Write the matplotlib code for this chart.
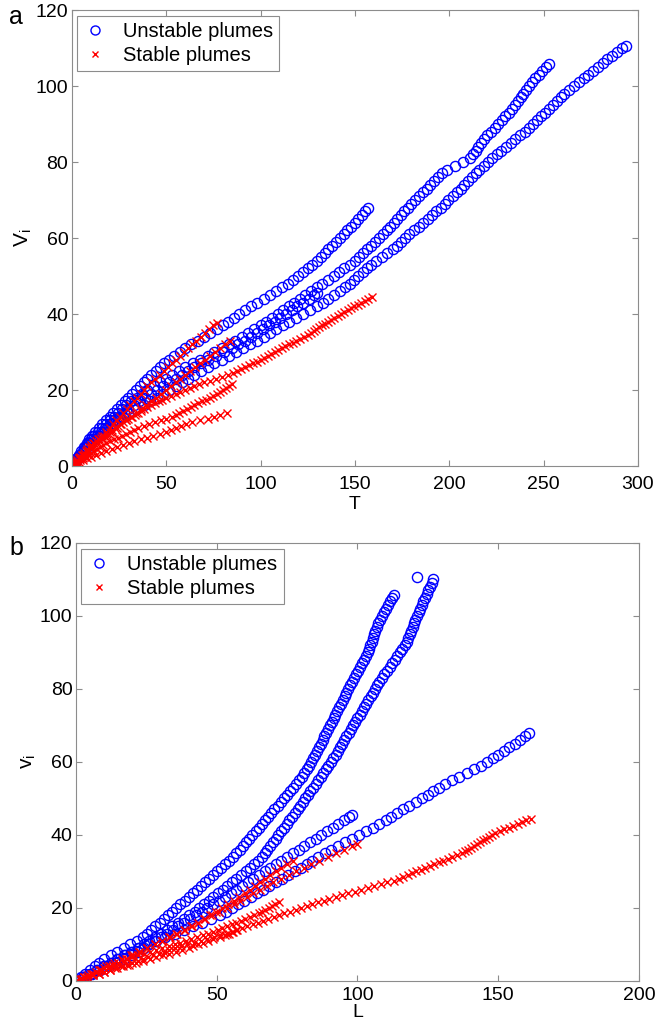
import matplotlib.pyplot as plt
from matplotlib.lines import Line2D

plt.rcParams['font.family'] = ['Liberation Sans', 'DejaVu Sans']
plt.rcParams['mathtext.default'] = 'regular'

# each plume: volume v, plotted against time t (panel a) and length l (panel b)

# unstable plume 1
u1_v = [0, 1, 2, 3, 4, 5, 6, 7, 8, 9, 10, 11, 12, 13, 14, 15, 16, 17, 18, 19, 20, 21, 22, 23, 24,
        25, 26, 27, 28, 29, 30, 31, 32, 33, 34, 35, 36, 37, 38, 39, 40, 41, 42, 43, 44, 45, 46, 47,
        48, 49, 50, 51, 52, 53, 54, 55, 56, 57, 58, 59, 60, 61, 62, 63, 64, 65, 66, 67, 67.8]
u1_t = [0, 1.25, 2.5, 3.75, 5, 6.4, 7.9, 9.3, 10.8, 12.5, 14.2, 16, 18, 20, 22, 24, 26, 28, 30, 32,
        34, 36, 38, 40, 42.2, 44.4, 46.7, 48.9, 51.4, 54.3, 57.1, 60, 63.3, 66.7, 70, 73.3, 76.7, 80,
        82.9, 85.7, 88.6, 91.7, 95, 98.3, 101.7, 105, 108.3, 111.4, 114.3, 117.1, 120, 122.5, 125,
        127.5, 130, 132, 134, 136, 138, 140, 142, 144, 146, 148, 150, 151.8, 153.7, 155.5, 157]
u1_l = [0, 2.5, 5, 7.5, 10, 12.3, 14.6, 16.9, 19.5, 22.5, 25.5, 28.5, 31.8, 35, 38.2, 41.4, 44.6,
        47.8, 51, 53.2, 55.4, 57.6, 59.8, 62, 64.2, 66.4, 68.7, 70.9, 73.1, 75.4, 77.7, 80, 82, 84, 86,
        88.3, 90.7, 93, 95.6, 98.1, 100.7, 103.2, 105.5, 107.8, 110, 112, 114, 116.1, 118.4, 120.7,
        123, 125, 127, 129, 131, 133.6, 136.2, 138.8, 141.4, 144, 146, 148, 150, 152, 154, 155.8,
        157.7, 159.5, 161]

# unstable plume 2
u2_v = [0, 1, 2, 3, 4, 5, 6, 7, 8, 9, 10, 11, 12, 13, 14, 15, 16, 17, 18, 19, 20, 21, 22, 23, 24,
        25, 26, 27, 28, 29, 30, 31, 32, 33, 34, 35, 36, 37, 38, 39, 40, 41, 42, 43, 44, 45, 46, 47,
        48, 49, 50, 51, 52, 53, 54, 55, 56, 57, 58, 59, 60, 61, 62, 63, 64, 65, 66, 67, 68, 69, 70,
        71, 72, 73, 74, 75, 76, 77, 78, 79, 80, 81, 82, 83, 84, 85, 86, 87, 88, 89, 90, 91, 92, 93,
        94, 95, 96, 97, 98, 99, 100, 101, 102, 103, 104, 105, 105.8]
u2_t = [0, 1.4, 2.9, 4.3, 5.7, 7.1, 8.6, 10, 12, 14, 16, 18, 20, 22.2, 24.4, 26.7, 28.9, 31.4, 34.3,
        37.1, 40, 43.3, 46.7, 50, 53.3, 56.7, 60, 64, 68, 71.9, 75.6, 79.4, 83.1, 86.7, 90, 93.3,
        96.7, 100, 103, 106, 109, 112, 114.9, 117.8, 120.7, 123.6, 126.6, 129.7, 132.8, 135.9, 139,
        141.8, 144.5, 147.3, 150, 152.2, 154.3, 156.5, 158.6, 160.8, 162.9, 164.9, 166.8, 168.7,
        170.6, 172.5, 174.4, 176.2, 178.1, 180, 182, 184, 186, 188, 190, 192, 194, 196, 199, 203,
        207.5, 210.8, 212.4, 214, 215.5, 217, 218.5, 220, 222, 224, 226, 227.9, 229.8, 231.7, 233.4,
        234.9, 236.4, 237.9, 239.3, 240.8, 242.3, 243.9, 245.7, 247.6, 249.4, 251.2, 252.7]
u2_l = [0, 1.7, 3.3, 5, 6.6, 8.3, 10.1, 12.3, 14.6, 16.9, 19.2, 21.5, 23.8, 25.3, 26.7, 28.2, 29.7,
        31.2, 32.7, 34.1, 35.6, 37.1, 38.6, 40, 41.5, 42.9, 44.3, 45.7, 47.2, 48.6, 50, 51.4, 52.9,
        54.3, 55.7, 56.9, 58.1, 59.3, 60.5, 61.6, 62.7, 63.9, 65, 66.1, 67.2, 68.3, 69.4, 70.5, 71.6,
        72.7, 73.9, 75, 76.1, 77.2, 78.3, 79.4, 80.2, 81.1, 81.9, 82.7, 83.6, 84.3, 85, 85.6, 86.3,
        86.9, 87.6, 88.2, 88.9, 89.5, 90.2, 90.8, 91.5, 92.1, 92.8, 93.4, 94.1, 94.7, 95.4, 96.1,
        96.8, 97.5, 98.2, 98.9, 99.6, 100.3, 101, 101.7, 102.4, 103.1, 103.6, 104, 104.5, 105, 105.4,
        105.9, 106.4, 106.9, 107.4, 107.9, 108.6, 109.3, 110, 110.8, 111.5, 112.2, 112.8]

# unstable plume 3
u3_v = [0, 1, 2, 3, 4, 5, 6, 7, 8, 9, 10, 11, 12, 13, 14, 15, 16, 17, 18, 19, 20, 21, 22, 23, 24,
        25, 26, 27, 28, 29, 30, 31, 32, 33, 34, 35, 36, 37, 38, 39, 40, 41, 42, 43, 44, 45, 46, 47,
        48, 49, 50, 51, 52, 53, 54, 55, 56, 57, 58, 59, 60, 61, 62, 63, 64, 65, 66, 67, 68, 69, 70,
        71, 72, 73, 74, 75, 76, 77, 78, 79, 80, 81, 82, 83, 84, 85, 86, 87, 88, 89, 90, 91, 92, 93,
        94, 95, 96, 97, 98, 99, 100, 101, 102, 103, 104, 105, 106, 107, 108, 109, 110, 110.6]
u3_t = [0, 1.7, 3.3, 5, 6.7, 8.3, 10, 12.2, 14.4, 16.7, 18.9, 21.4, 24.3, 27.1, 30, 34, 38, 41.4,
        44.9, 48.3, 51.7, 55, 58.3, 61.7, 65, 68.3, 71.9, 75.6, 79.4, 83.1, 86.9, 90.6, 94.4, 98.1,
        101.7, 105, 108.3, 111.7, 115, 118.8, 122.5, 126.3, 130, 133, 136, 139, 142, 145, 147.3,
        149.6, 151.9, 154.2, 156.5, 158.8, 161.4, 164.3, 167.1, 170, 172.2, 174.4, 176.7, 178.9,
        181.3, 183.8, 186.3, 188.8, 191.1, 193.2, 195.4, 197.5, 199.6, 201.8, 203.9, 206, 208, 210,
        212, 214, 216, 218.2, 220.5, 222.9, 225.3, 227.6, 230, 232.5, 234.9, 237.4, 239.9, 242.4,
        244.6, 246.7, 248.8, 250.9, 252.9, 255, 257, 259, 261, 263.5, 266.1, 268.6, 271.2, 273.7,
        276.3, 278.8, 281.3, 283.8, 286.3, 288.9, 291.5, 293.6]
u3_l = [0, 2.5, 5, 7.5, 10, 12.5, 15, 17.5, 20, 22, 24, 26.1, 28.1, 30.1, 32.2, 34.2, 36.2, 38.3,
        40.3, 42.2, 43.8, 45.5, 47.1, 48.8, 50.4, 52.1, 53.7, 55.4, 57, 58.7, 60.3, 61.8, 63.2, 64.6,
        66, 67, 68, 68.9, 69.9, 70.9, 71.9, 72.8, 73.8, 74.8, 75.8, 76.8, 77.7, 78.7, 79.7, 80.6,
        81.5, 82.4, 83.3, 84.2, 85.1, 86, 86.9, 87.8, 88.7, 89.6, 90.5, 91.4, 92.2, 93, 93.7, 94.5,
        95.3, 96.1, 96.9, 97.7, 98.4, 99.2, 100, 100.8, 101.6, 102.3, 103.1, 103.9, 104.7, 105.5,
        106.2, 107, 107.8, 108.7, 109.6, 110.5, 111.4, 112.3, 113.2, 114.1, 115, 115.9, 116.8, 117.5,
        118, 118.5, 119.1, 119.6, 120.1, 120.6, 121.2, 121.7, 122.2, 122.8, 123.4, 124, 124.6, 125.2,
        125.8, 126.4, 126.8, 121]

# unstable plume 4
u4_v = [0, 1, 2, 3, 4, 5, 6, 7, 8, 9, 10, 11, 12, 13, 14, 15, 16, 17, 18, 19, 20, 21, 22, 23, 24,
        25, 26, 27, 28, 29, 30, 31, 32, 33, 34, 35, 36, 37, 38, 39, 40, 41, 42, 43, 44, 45, 45.5]
u4_t = [0, 1.5, 3.1, 4.6, 6.2, 7.7, 9.2, 11.1, 13.3, 15.6, 17.8, 20, 22.5, 25, 27.5, 30, 32.9, 35.7,
        38.6, 41.7, 45, 48.3, 51.7, 55, 58.3, 61.7, 65, 68.3, 72.1, 76.4, 80.7, 85, 88.3, 91.7, 95,
        98.3, 101.5, 104.5, 107.5, 110.5, 113.5, 116.5, 119.5, 122.5, 125.5, 128.5, 130]
u4_l = [0, 2.9, 5.7, 8.6, 11.4, 14.3, 17.1, 20, 22, 24.1, 26.1, 28.2, 30.2, 32.3, 34.3, 36.4, 38.4,
        40.5, 42.5, 44.6, 46.7, 48.7, 50.8, 52.9, 54.9, 57, 59, 61, 63, 65, 67, 69, 71, 73, 75, 77.1,
        79.1, 81.1, 83.1, 85.2, 87.2, 89.2, 91.2, 93.1, 95.1, 97, 98]

# stable plume 1
s1_v = [0, 0.5, 1, 1.5, 2, 2.5, 3, 3.5, 4, 4.5, 5, 5.5, 6, 6.5, 7, 7.5, 8, 8.5, 9, 9.5, 10, 10.5,
        11, 11.5, 12, 12.5, 13, 13.5, 14, 14.5, 15, 15.5, 16, 16.5, 17, 17.5, 18, 18.5, 19, 19.5, 20,
        20.5, 21, 21.5, 22, 22.5, 23, 23.5, 24, 24.5, 25, 25.5, 26, 26.5, 27, 27.5, 28, 28.5, 29,
        29.5, 30, 30.5, 31, 31.5, 32, 32.5, 33, 33.5, 34, 34.5, 35, 35.5, 36, 36.5, 37, 37.5, 38,
        38.5, 39, 39.5, 40, 40.5, 41, 41.5, 42, 42.5, 43, 43.5, 44, 44.5]
s1_t = [0, 0.9, 1.8, 2.7, 3.6, 4.5, 5.5, 6.4, 7.3, 8.2, 9.1, 10, 11.4, 12.9, 14.3, 15.7, 17.1, 18.6,
        20, 21.4, 22.9, 24.3, 25.7, 27.1, 28.6, 30, 31.7, 33.3, 35, 36.7, 38.3, 40, 42, 44, 46, 48,
        50, 52.5, 55, 57.5, 60, 62.5, 65, 67.5, 70, 73.1, 76.2, 79.4, 82.5, 85.6, 87.7, 89.7, 91.8,
        93.8, 95.9, 97.9, 100, 101.9, 103.8, 105.6, 107.5, 109.4, 111.3, 113.1, 115, 117, 119, 121,
        123, 125, 126.5, 128.1, 129.6, 131.2, 132.7, 134.2, 135.8, 137.3, 139.1, 140.8, 142.6, 144.4,
        146.2, 148, 149.8, 151.7, 153.5, 155.4, 157.2, 159.1]
s1_l = [0, 2, 4, 6, 8, 10, 12, 14, 16, 18, 20, 21.9, 23.8, 25.6, 27.5, 29.4, 31.3, 33.1, 35, 37.3,
        39.6, 41.9, 44.3, 46.6, 48.9, 51.2, 53.5, 55.4, 57.2, 59.1, 60.9, 62.8, 64.6, 66.5, 68.3,
        70.2, 72, 74, 76, 78, 80, 82, 84, 86, 88, 90, 92.3, 94.6, 96.8, 99.1, 101.4, 103.7, 105.9,
        108.2, 110.5, 112.8, 114.6, 116.2, 117.8, 119.4, 120.9, 122.5, 124.1, 125.7, 127.3, 128.8,
        130.4, 132, 133.6, 135.2, 137, 138.1, 139.2, 140.3, 141.4, 142.5, 143.5, 144.6, 145.7, 146.8,
        147.9, 149, 150.6, 152.2, 153.7, 155.3, 156.9, 158.5, 160, 161.6]

# stable plume 2
s2_v = [0, 0.5, 1, 1.5, 2, 2.5, 3, 3.5, 4, 4.5, 5, 5.5, 6, 6.5, 7, 7.5, 8, 8.5, 9, 9.5, 10, 10.5,
        11, 11.5, 12, 12.5, 13, 13.5, 14]
s2_t = [0, 2, 4, 6, 8, 10, 12.8, 15.6, 18.3, 21.2, 24.2, 27.2, 30.2, 33.2, 36.4, 39.8, 43.2, 46.6,
        50, 52.6, 55.2, 57.8, 60.4, 63.7, 67.8, 72, 75.3, 78.7, 82]
s2_l = [0, 2, 4, 6, 8, 10, 12.2, 14.4, 16.7, 19, 21.4, 23.8, 26.2, 28.6, 31, 33.2, 35.5, 37.7, 40,
        41.7, 43.5, 45.2, 47, 48.8, 51, 53, 54.3, 55.7, 57]

# stable plume 3
s3_v = [0, 0.5, 1, 1.5, 2, 2.5, 3, 3.5, 4, 4.5, 5, 5.5, 6, 6.5, 7, 7.5, 8, 8.5, 9, 9.5, 10, 10.5,
        11, 11.5, 12, 12.5, 13, 13.5, 14, 14.5, 15, 15.5, 16, 16.5, 17, 17.5, 18, 18.5, 19, 19.5, 20,
        20.5, 21, 21.5]
s3_t = [0, 1.4, 2.9, 4.3, 5.7, 7.1, 8.6, 10, 11.7, 13.3, 15, 16.7, 18.3, 20, 22.1, 24.3, 26.4, 28.6,
        30.7, 32.9, 35, 38, 41, 44, 47, 50, 53, 55, 57, 59, 61, 63, 65, 67, 69, 71, 73, 75, 76.7,
        78.3, 80, 81.7, 83.3, 85]
s3_l = [0, 1.4, 2.9, 4.3, 5.7, 7.1, 8.6, 10, 11.7, 13.3, 15, 16.7, 18.3, 20, 22.1, 24.3, 26.4, 28.6,
        30.7, 32.9, 35, 37, 39, 41, 43, 45, 47, 48.7, 50.3, 52, 53.7, 55.3, 57, 58.6, 60.2, 61.8,
        63.4, 65, 66.2, 67.3, 68.5, 69.7, 70.8, 72]

# stable plume 4
s4_v = [0, 1, 2, 3, 4, 5, 6, 7, 8, 9, 10, 11, 12, 13, 14, 15, 16, 17, 18, 19, 20, 21, 22, 23, 24,
        25, 26, 27, 28, 29, 30, 31, 32, 33, 34, 35, 36, 37, 37.6]
s4_t = [0, 2, 4, 6, 8, 10, 12, 14, 16, 18, 20, 21.8, 23.6, 25.5, 27.3, 29.1, 30.9, 32.7, 34.5, 36.4,
        38.2, 40, 42.2, 44.3, 46.5, 48.7, 50.8, 53, 55.2, 57.4, 59.5, 61.7, 63.9, 66, 68.2, 70.5,
        72.6, 74.8, 77]
s4_l = [0, 3, 6, 9, 12, 15, 17.6, 20.2, 22.8, 25.4, 28, 30.5, 33.1, 35.6, 38.2, 40.7, 43.3, 45.8,
        48.4, 50.9, 53.5, 56, 58.3, 60.7, 63, 65.3, 67.7, 70, 72.7, 75.5, 78.2, 80.9, 83.6, 86.5,
        89.4, 92.4, 95.3, 98.2, 100]

# stable plume 5
s5_v = [0, 1, 2, 3, 4, 5, 6, 7, 8, 9, 10, 11, 12, 13, 14, 15, 16, 17, 18, 19, 20, 21, 22, 23, 24,
        25, 26, 27, 28, 29, 30, 31, 32, 33]
s5_t = [0, 2.2, 4.4, 6.7, 8.9, 11.3, 13.8, 16.3, 18.8, 21.3, 23.8, 26.3, 28.8, 31.3, 33.8, 36.4,
        39.1, 41.8, 44.5, 47.3, 50, 52.5, 55, 57.5, 60, 62.7, 65.3, 68, 70.7, 73.3, 76, 78.7, 81.3, 84]
s5_l = [0, 2.7, 5.3, 8, 10.7, 13.5, 16.5, 19.5, 22.5, 25.3, 28, 30.7, 33.3, 36, 38.7, 41.1, 43.3,
        45.5, 47.6, 49.8, 52, 54, 56, 58, 60, 61.8, 63.6, 65.3, 67.1, 69, 71, 73, 75, 77]

unstable = [(u1_t, u1_l, u1_v), (u2_t, u2_l, u2_v), (u3_t, u3_l, u3_v), (u4_t, u4_l, u4_v)]
stable = [(s1_t, s1_l, s1_v), (s2_t, s2_l, s2_v), (s3_t, s3_l, s3_v),
          (s4_t, s4_l, s4_v), (s5_t, s5_l, s5_v)]

gray = '#8c8c8c'
circ = dict(ls='none', marker='o', mfc='none', mec='#0000ff', ms=7.3, mew=1.0)
cross = dict(ls='none', marker='x', color='#ff0000', ms=5.5, mew=1.0)

fig = plt.figure(figsize=(6.59, 10.26), dpi=100)
ax_a = fig.add_axes([0.109, 0.5458, 0.859, 0.4444])
ax_b = fig.add_axes([0.1153, 0.0439, 0.8543, 0.4269])


def draw(ax, col, xmax, xlabel, ylabel, tpad, xpad):
    for p in unstable:
        ax.plot(p[col], p[2], **circ)
    for p in stable:
        ax.plot(p[col], p[2], **cross)
    ax.set_xlim(0, xmax)
    ax.set_ylim(0, 120)
    ax.set_xticks(range(0, xmax + 1, 50))
    ax.set_yticks(range(0, 121, 20))
    ax.tick_params(direction='in', top=True, right=True, length=4, width=0.8,
                   color=gray, labelsize=14)
    ax.tick_params(axis='x', pad=tpad)
    ax.tick_params(axis='y', pad=2.5)
    for s in ax.spines.values():
        s.set_color(gray)
        s.set_linewidth(0.8)
    ax.set_xlabel(xlabel, fontsize=14, labelpad=xpad)
    ax.set_ylabel(ylabel, fontsize=15, labelpad=1)
    handles = [Line2D([], [], ls='none', marker='o', mfc='none', mec='#0000ff', ms=6.5, mew=1.0),
               Line2D([], [], ls='none', marker='x', color='#ff0000', ms=4.5, mew=1.0)]
    leg = ax.legend(handles, ['Unstable plumes', 'Stable plumes'], loc='upper left',
                    bbox_to_anchor=(0.009, 0.987), borderaxespad=0, fontsize=14.5,
                    fancybox=False, framealpha=1, edgecolor=gray, handlelength=1.2,
                    handletextpad=0.8, borderpad=0.3, labelspacing=0.25)
    leg.get_frame().set_linewidth(0.8)


draw(ax_a, 0, 300, 'T', 'V$_{i}$', 7.5, 2)
draw(ax_b, 1, 200, 'L', 'v$_{i}$', 4, 0.5)

fig.text(16 / 659, 1 - 17 / 1026, 'a', ha='center', va='center', fontsize=18)
fig.text(16 / 659, 1 - 548 / 1026, 'b', ha='center', va='center', fontsize=18)

fig.savefig('out.png', dpi=100)
